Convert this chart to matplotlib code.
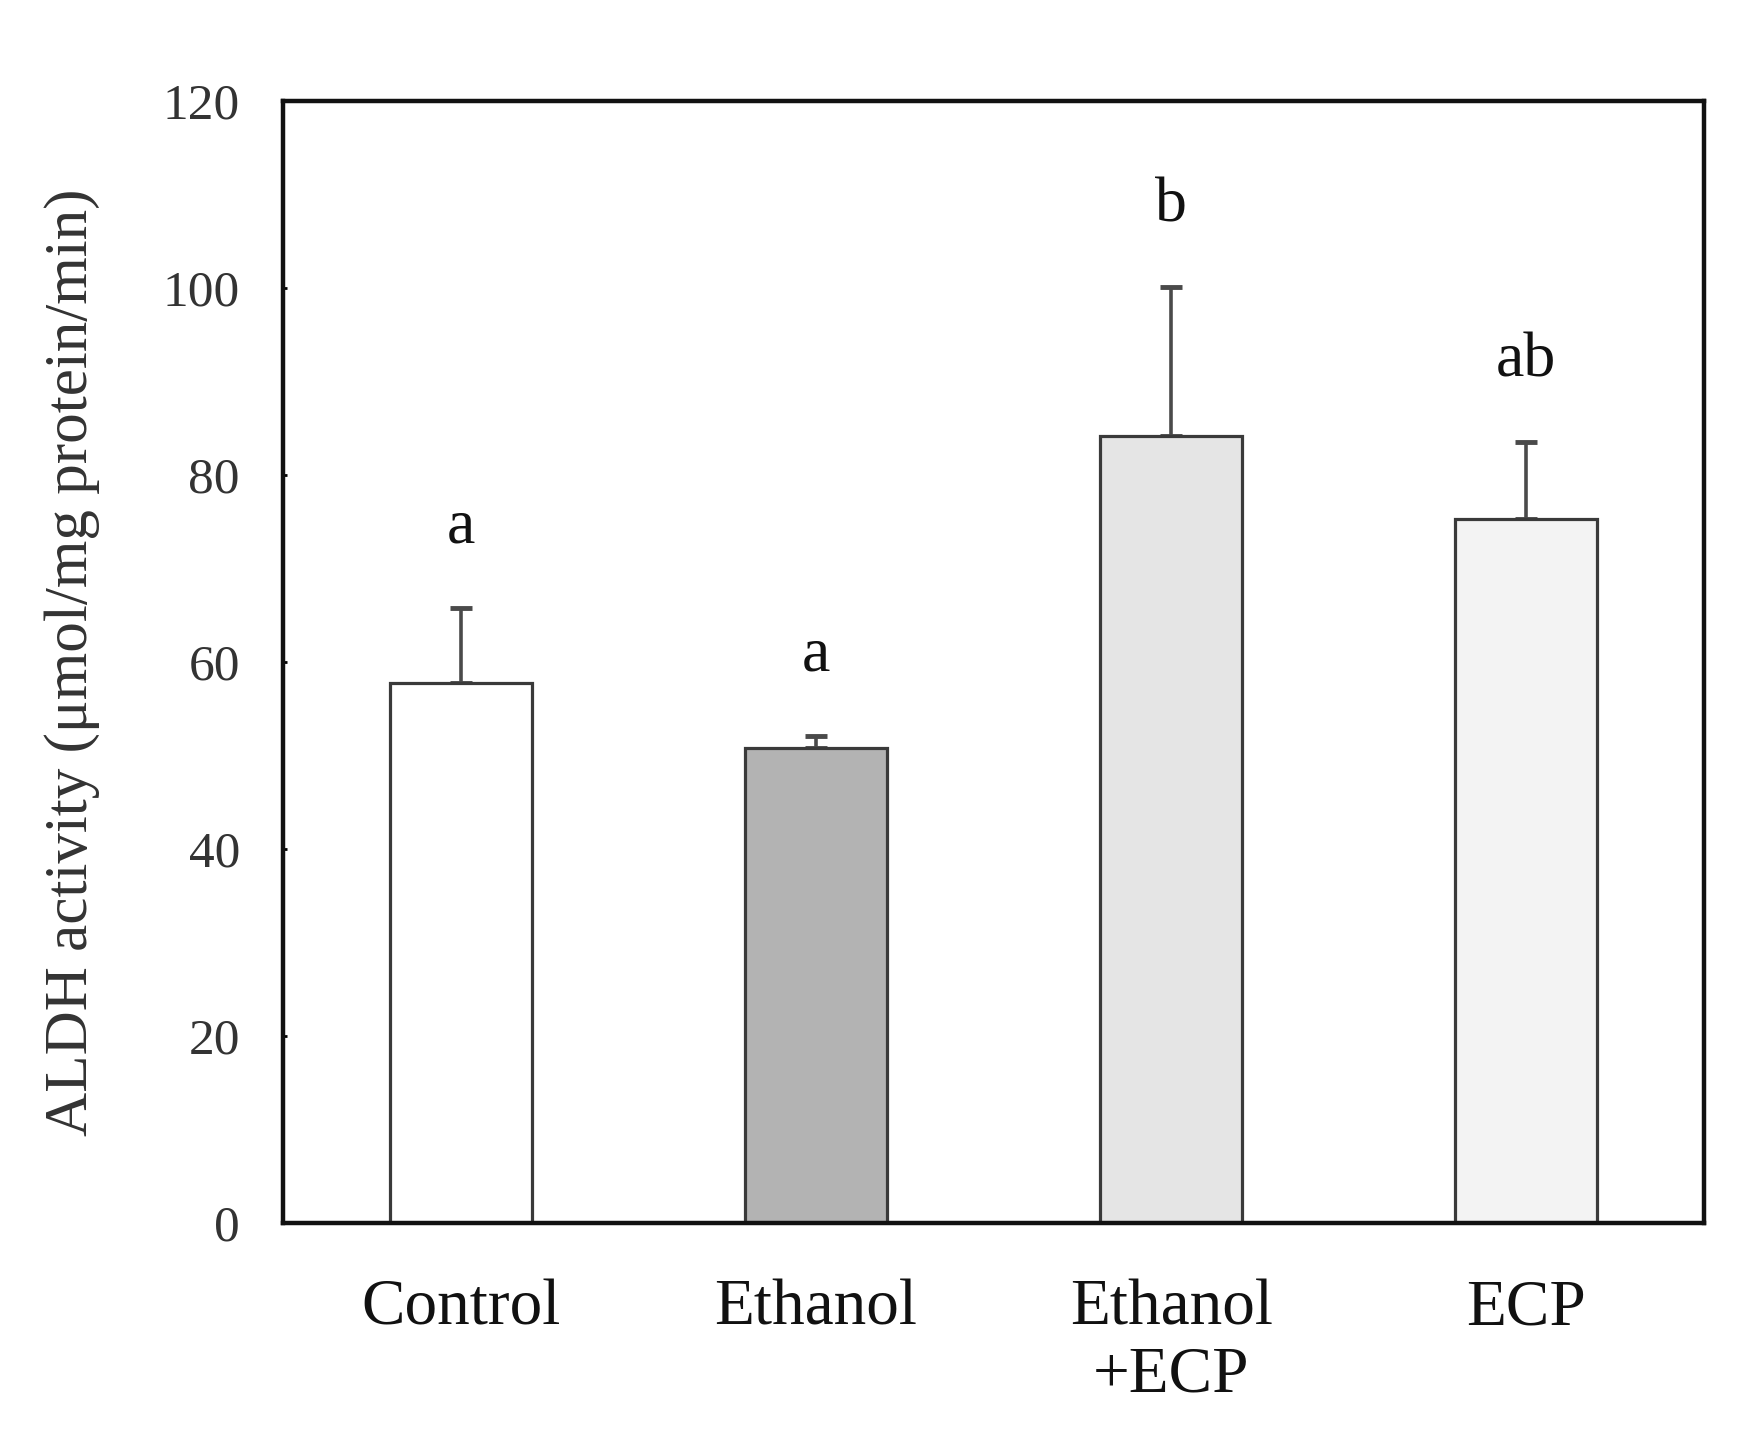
import matplotlib
matplotlib.use("Agg")
import matplotlib.pyplot as plt
import numpy as np

categories = ["Control", "Ethanol", "Ethanol\n+ECP", "ECP"]
means = [57.8, 50.8, 84.2, 75.3]
sems = [8.0, 1.3, 15.9, 8.2]
letters = ["a", "a", "b", "ab"]
bar_colors = ["#ffffff", "#b3b3b3", "#e5e5e5", "#f3f3f3"]
yticks = [0, 20, 40, 60, 80, 100, 120]

plt.rcParams['font.family'] = ['Liberation Serif', 'DejaVu Serif']

fig = plt.figure(figsize=(17.4, 14.32), dpi=100)
ax = fig.add_axes([283/1740, 1 - 1223/1432, (1704-283)/1740, (1223-101)/1432])

x = np.arange(len(categories))
ax.bar(x, means, width=0.40, color=bar_colors, edgecolor="#3a3a3a",
       linewidth=2.3, zorder=2)
ax.errorbar(x, means, yerr=[np.zeros(len(sems)), sems], fmt='none',
            ecolor="#4a4a4a", elinewidth=2.6, capsize=8, capthick=3.5, zorder=1)

for xi, m, s, lab in zip(x, means, sems, letters):
    ax.text(xi, m + s + 7.0, lab, ha='center', va='baseline',
            fontsize=46, color="#111111")

ax.set_xlim(-0.5, 3.5)
ax.set_ylim(0, 120)
ax.set_yticks(yticks)
ax.set_yticklabels([str(v) for v in yticks])
ax.set_xticks(x)
ax.set_xticklabels(categories, fontsize=47, color="#111111", linespacing=1.17)
ax.tick_params(axis='y', direction='in', length=3, width=2, pad=31,
               labelsize=37, labelcolor="#333333")
ax.tick_params(axis='x', length=0, pad=40)

for sp in ax.spines.values():
    sp.set_linewidth(3.2)
    sp.set_color("#111111")

ax.set_ylabel("ALDH activity (μmol/mg protein/min)", fontsize=44,
              color="#333333", va='center')
ax.yaxis.set_label_coords(-0.1485, 0.50)

fig.savefig("out.png", dpi=100)
